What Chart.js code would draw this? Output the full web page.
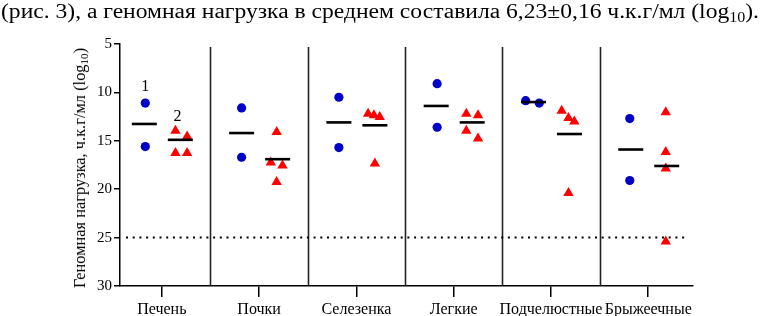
<!DOCTYPE html>
<html><head><meta charset="utf-8">
<script src="https://cdn.jsdelivr.net/npm/chart.js@4/dist/chart.umd.min.js"></script>
<style>
html,body{margin:0;padding:0;background:#fff;width:765px;height:316px;overflow:hidden;}
#wrap{position:relative;width:765px;height:316px;}
#cap{position:absolute;left:1px;top:0px;font-family:"Liberation Serif",serif;font-size:20px;line-height:22px;white-space:nowrap;color:#000;transform-origin:0 0;}
#ytitle{position:absolute;left:80px;top:168px;transform:translate(-50%,-50%) rotate(-90deg);font-family:"Liberation Serif",serif;font-size:16.4px;white-space:nowrap;color:#000;}
.sb{font-size:0.68em;position:relative;top:0.28em;}
canvas{position:absolute;left:0;top:0;}
</style></head>
<body><div id="wrap">
<canvas id="c" width="765" height="316"></canvas>
<div id="cap">(рис. 3), а геномная нагрузка в среднем составила 6,23±0,16 ч.к.г/мл (log<span class="sb">10</span>).</div>
<div id="ytitle">Геномная нагрузка, ч.к.г/мл (log<span class="sb">10</span>)</div>
</div>
<script>
const categories = ['Печень','Почки','Селезенка','Легкие','Подчелюстные','Брыжеечные'];
const yTicks = [5,10,15,20,25,30];
const threshold = 25;
// group 1 (blue circles), log10 values
const group1 = [
  [11.1, 15.6],
  [11.6, 16.7],
  [10.5, 15.7],
  [9.1, 13.6],
  [10.85, 11.1],
  [12.7, 19.1]
];
const group1Jitter = [
  [-0.17,-0.17],[-0.18,-0.18],[-0.18,-0.18],[-0.17,-0.17],[-0.26,-0.12],[-0.19,-0.19]
];
// group 2 (red triangles)
const group2 = [
  [13.95, 14.55, 16.25, 16.25],
  [14.1, 17.25, 17.55, 19.25],
  [12.2, 12.35, 12.55, 17.35],
  [12.2, 12.35, 13.95, 14.75],
  [11.9, 12.65, 13.0, 20.4],
  [12.05, 16.15, 17.85, 25.4]
];
const group2Jitter = [
  [0.14,0.26,0.14,0.26],
  [0.18,0.12,0.24,0.18],
  [0.12,0.18,0.24,0.19],
  [0.13,0.25,0.13,0.25],
  [0.11,0.18,0.24,0.18],
  [0.18,0.18,0.18,0.18]
];
const mean1 = [13.26, 14.2, 13.1, 11.4, 11.0, 15.9];
const mean2 = [14.9, 16.9, 13.4, 13.1, 14.3, 17.6];
const meanOffset1 = -0.18, meanOffset2 = 0.19;

const pts = (vals, jit) => vals.flatMap((arr,i)=>arr.map((v,j)=>({x:i+jit[i][j], y:v})));
const meanPts = (vals, off) => vals.map((v,i)=>({x:i+off, y:v}));

const tickFont = {family:'"Liberation Serif", serif', size:15};
const catFont = {family:'"Liberation Serif", serif', size:16};

const deco = {
  id:'deco',
  beforeDatasetsDraw(chart){
    const {ctx, chartArea:a, scales:{x,y}} = chart;
    ctx.save();
    ctx.strokeStyle = '#222'; ctx.lineWidth = 1.6;
    for (let i=0;i<categories.length-1;i++){
      const px = Math.round(x.getPixelForValue(i+0.5))+0.5;
      ctx.beginPath(); ctx.moveTo(px, a.top+3); ctx.lineTo(px, a.bottom); ctx.stroke();
    }
    const py = y.getPixelForValue(threshold);
    ctx.strokeStyle = '#000'; ctx.lineWidth = 2; ctx.setLineDash([2,4.7]);
    ctx.beginPath(); ctx.moveTo(a.left+6, py); ctx.lineTo(a.right-6, py); ctx.stroke();
    ctx.restore();
  },
  afterDatasetsDraw(chart){
    const {ctx, scales:{x,y}} = chart;
    ctx.save();
    ctx.fillStyle = '#000';
    ctx.font = '16px "Liberation Serif", serif';
    ctx.textAlign = 'center'; ctx.textBaseline = 'middle';
    const x1 = x.getPixelForValue(0+group1Jitter[0][0]);
    const y1 = y.getPixelForValue(Math.min(...group1[0]));
    ctx.fillText('1', x1, y1-16);
    const x2 = x.getPixelForValue(0+group2Jitter[0][0]);
    const y2 = y.getPixelForValue(Math.min(...group2[0]));
    ctx.fillText('2', x2+2, y2-14);
    ctx.restore();
  }
};

new Chart(document.getElementById('c'), {
  type:'scatter',
  data:{datasets:[
    {data:meanPts(mean1, meanOffset1), pointStyle:'line', pointRadius:12.5, borderColor:'#000', borderWidth:2.6, backgroundColor:'#000', clip:false},
    {data:meanPts(mean2, meanOffset2), pointStyle:'line', pointRadius:12.5, borderColor:'#000', borderWidth:2.6, backgroundColor:'#000', clip:false},
    {data:pts(group1, group1Jitter), pointStyle:'circle', pointRadius:4.6, backgroundColor:'#0000c8', borderWidth:0, clip:false},
    {data:pts(group2, group2Jitter), pointStyle:'triangle', pointRadius:6, backgroundColor:'#ff0000', borderWidth:0, clip:false}
  ]},
  options:{
    responsive:false, animation:false, devicePixelRatio:1,
    layout:{padding:{top:44,right:72,left:0,bottom:0}},
    plugins:{legend:{display:false}, tooltip:{enabled:false}},
    scales:{
      x:{type:'linear', min:-0.43, max:5.46,
        afterBuildTicks:s=>{s.ticks=categories.map((c,i)=>({value:i}));},
        ticks:{callback:v=>categories[v], font:catFont, color:'#000', padding:3, autoSkip:false, maxRotation:0, minRotation:0},
        grid:{display:true, drawOnChartArea:false, tickLength:11, color:'#000', lineWidth:1.5},
        border:{color:'#000', width:1.5},
        afterFit:s=>{s.height=30;}
      },
      y:{reverse:true, min:5, max:30,
        afterBuildTicks:s=>{s.ticks=yTicks.map(v=>({value:v}));},
        ticks:{font:tickFont, color:'#000', padding:2},
        grid:{display:true, drawOnChartArea:false, tickLength:6, color:'#000', lineWidth:1.5},
        border:{color:'#000', width:1.5},
        afterFit:s=>{s.width=120;}
      }
    }
  },
  plugins:[deco]
});
// stretch caption horizontally to span the line width as in the reference
const cap = document.getElementById('cap');
const w = cap.getBoundingClientRect().width;
cap.style.transform = 'scaleX(' + (758 / w) + ')';
</script>
</body></html>
